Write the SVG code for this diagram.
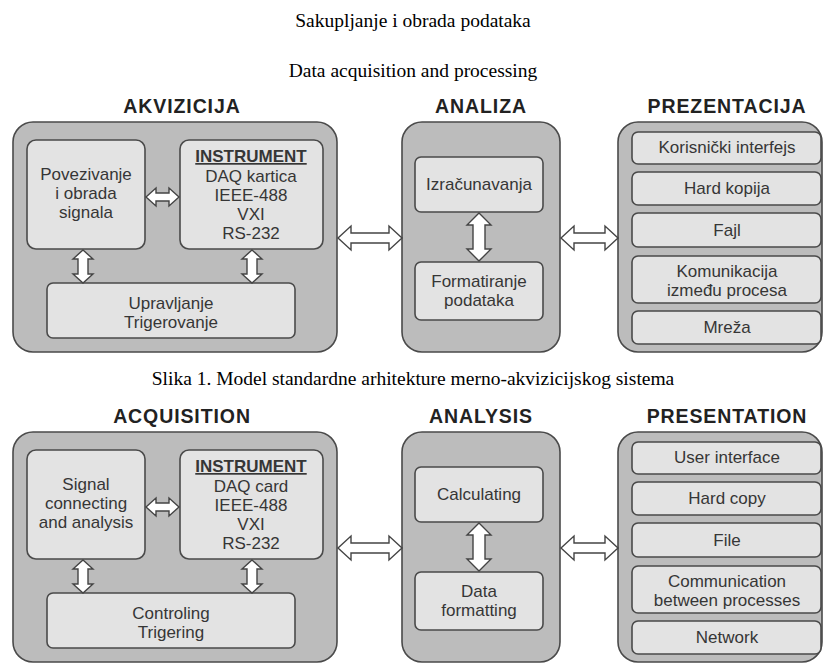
<svg xmlns="http://www.w3.org/2000/svg" width="825" height="666" viewBox="0 0 825 666">
<style>
.cap{font-family:"Liberation Serif","Times New Roman",serif;font-size:19.5px;fill:#000;text-anchor:middle}
.ttl{font-family:"Liberation Sans",Arial,sans-serif;font-size:19.5px;font-weight:bold;fill:#222;text-anchor:middle;letter-spacing:0.9px}
.outer{fill:#bcbcbc;stroke:#4a4a4a;stroke-width:1.6}
.inner{fill:#e3e3e3;stroke:#4a4a4a;stroke-width:1.6}
.t{font-family:"Liberation Sans",Arial,sans-serif;font-size:17px;fill:#363636;text-anchor:middle}
.tb{font-family:"Liberation Sans",Arial,sans-serif;font-size:17px;font-weight:bold;fill:#363636;text-anchor:middle;text-decoration:underline}
.arr{fill:#fff;stroke:#444;stroke-width:1.4;stroke-linejoin:miter}
</style>
<rect width="825" height="666" fill="#fff"/>
<text class="cap" x="413" y="27">Sakupljanje i obrada podataka</text>
<text class="cap" x="413" y="77">Data acquisition and processing</text>
<text class="cap" x="413" y="385">Slika 1. Model standardne arhitekture merno-akvizicijskog sistema</text>

<!-- TOP HALF -->
<g id="akvizicija">
<text class="ttl" x="182" y="113">AKVIZICIJA</text>
<rect class="outer" x="13" y="122" width="324" height="230" rx="20"/>
</g>
<g id="povezivanje">
<rect class="inner" x="27" y="140" width="118" height="109" rx="9"/>
<text class="t" x="86" y="180">Povezivanje</text>
<text class="t" x="86" y="199">i obrada</text>
<text class="t" x="86" y="218">signala</text>
</g>
<g id="instrument">
<rect class="inner" x="180" y="140" width="143" height="109" rx="9"/>
<text class="tb" x="251" y="162">INSTRUMENT</text>
<text class="t" x="251" y="182">DAQ kartica</text>
<text class="t" x="251" y="201">IEEE-488</text>
<text class="t" x="251" y="220">VXI</text>
<text class="t" x="251" y="239">RS-232</text>
</g>
<g id="upravljanje">
<rect class="inner" x="47" y="283" width="248" height="55" rx="6"/>
<text class="t" x="171" y="309">Upravljanje</text>
<text class="t" x="171" y="328">Trigerovanje</text>
</g>
<g id="analiza">
<text class="ttl" x="481" y="113">ANALIZA</text>
<rect class="outer" x="402" y="122" width="158" height="230" rx="20"/>
</g>
<g id="izracunavanja">
<rect class="inner" x="415" y="157" width="128" height="55" rx="6"/>
<text class="t" x="479" y="190">Izračunavanja</text>
</g>
<g id="formatiranje">
<rect class="inner" x="415" y="262" width="128" height="58" rx="6"/>
<text class="t" x="479" y="287">Formatiranje</text>
<text class="t" x="479" y="306">podataka</text>
</g>
<g id="prezentacija">
<text class="ttl" x="727" y="113">PREZENTACIJA</text>
<rect class="outer" x="618" y="122" width="204" height="230" rx="20"/>
</g>
<g id="korisnicki"><rect class="inner" x="632" y="132" width="189" height="32" rx="6"/><text class="t" x="727" y="153">Korisnički interfejs</text></g>
<g id="hardkopija"><rect class="inner" x="632" y="172" width="189" height="33" rx="6"/><text class="t" x="727" y="194">Hard kopija</text></g>
<g id="fajl"><rect class="inner" x="632" y="213" width="189" height="34" rx="6"/><text class="t" x="727" y="236">Fajl</text></g>
<g id="komunikacija"><rect class="inner" x="632" y="256" width="189" height="47" rx="6"/><text class="t" x="727" y="277">Komunikacija</text><text class="t" x="727" y="296">između procesa</text></g>
<g id="mreza"><rect class="inner" x="632" y="311" width="189" height="33" rx="6"/><text class="t" x="727" y="333">Mreža</text></g>

<!-- BOTTOM HALF -->
<g id="acquisition">
<text class="ttl" x="182" y="423">ACQUISITION</text>
<rect class="outer" x="13" y="432" width="324" height="230" rx="20"/>
</g>
<g id="signal">
<rect class="inner" x="27" y="450" width="118" height="109" rx="9"/>
<text class="t" x="86" y="490">Signal</text>
<text class="t" x="86" y="509">connecting</text>
<text class="t" x="86" y="528">and analysis</text>
</g>
<g id="instrument2">
<rect class="inner" x="180" y="450" width="143" height="109" rx="9"/>
<text class="tb" x="251" y="472">INSTRUMENT</text>
<text class="t" x="251" y="492">DAQ card</text>
<text class="t" x="251" y="511">IEEE-488</text>
<text class="t" x="251" y="530">VXI</text>
<text class="t" x="251" y="549">RS-232</text>
</g>
<g id="controling">
<rect class="inner" x="47" y="593" width="248" height="55" rx="6"/>
<text class="t" x="171" y="619">Controling</text>
<text class="t" x="171" y="638">Trigering</text>
</g>
<g id="analysis">
<text class="ttl" x="481" y="423">ANALYSIS</text>
<rect class="outer" x="402" y="432" width="158" height="230" rx="20"/>
</g>
<g id="calculating">
<rect class="inner" x="415" y="467" width="128" height="55" rx="6"/>
<text class="t" x="479" y="500">Calculating</text>
</g>
<g id="dataformatting">
<rect class="inner" x="415" y="572" width="128" height="58" rx="6"/>
<text class="t" x="479" y="597">Data</text>
<text class="t" x="479" y="616">formatting</text>
</g>
<g id="presentation">
<text class="ttl" x="727" y="423">PRESENTATION</text>
<rect class="outer" x="618" y="432" width="204" height="230" rx="20"/>
</g>
<g id="userinterface"><rect class="inner" x="632" y="442" width="189" height="32" rx="6"/><text class="t" x="727" y="463">User interface</text></g>
<g id="hardcopy"><rect class="inner" x="632" y="482" width="189" height="33" rx="6"/><text class="t" x="727" y="504">Hard copy</text></g>
<g id="file"><rect class="inner" x="632" y="523" width="189" height="34" rx="6"/><text class="t" x="727" y="546">File</text></g>
<g id="communication"><rect class="inner" x="632" y="566" width="189" height="47" rx="6"/><text class="t" x="727" y="587">Communication</text><text class="t" x="727" y="606">between processes</text></g>
<g id="network"><rect class="inner" x="632" y="621" width="189" height="33" rx="6"/><text class="t" x="727" y="643">Network</text></g>

<g id="connectors">
<!-- top -->
<path class="arr" d="M146 197 L156 188 L156 193 L169 193 L169 188 L179 197 L169 206 L169 201 L156 201 L156 206 Z"/>
<path class="arr" d="M83 250 L93 259 L88 259 L88 274 L93 274 L83 283 L73 274 L78 274 L78 259 L73 259 Z"/>
<path class="arr" d="M252 250 L262 259 L257 259 L257 274 L262 274 L252 283 L242 274 L247 274 L247 259 L242 259 Z"/>
<path class="arr" d="M479 213 L491 225 L485 225 L485 249 L491 249 L479 261 L467 249 L473 249 L473 225 L467 225 Z"/>
<path class="arr" d="M338 238 L351 226 L351 233 L389 233 L389 226 L402 238 L389 250 L389 243 L351 243 L351 250 Z"/>
<path class="arr" d="M561 238 L574 226 L574 233 L605 233 L605 226 L618 238 L605 250 L605 243 L574 243 L574 250 Z"/>
<!-- bottom -->
<path class="arr" d="M146 507 L156 498 L156 503 L169 503 L169 498 L179 507 L169 516 L169 511 L156 511 L156 516 Z"/>
<path class="arr" d="M83 560 L93 569 L88 569 L88 584 L93 584 L83 593 L73 584 L78 584 L78 569 L73 569 Z"/>
<path class="arr" d="M252 560 L262 569 L257 569 L257 584 L262 584 L252 593 L242 584 L247 584 L247 569 L242 569 Z"/>
<path class="arr" d="M479 523 L491 535 L485 535 L485 559 L491 559 L479 571 L467 559 L473 559 L473 535 L467 535 Z"/>
<path class="arr" d="M338 548 L351 536 L351 543 L389 543 L389 536 L402 548 L389 560 L389 553 L351 553 L351 560 Z"/>
<path class="arr" d="M561 548 L574 536 L574 543 L605 543 L605 536 L618 548 L605 560 L605 553 L574 553 L574 560 Z"/>
</g>
</svg>
